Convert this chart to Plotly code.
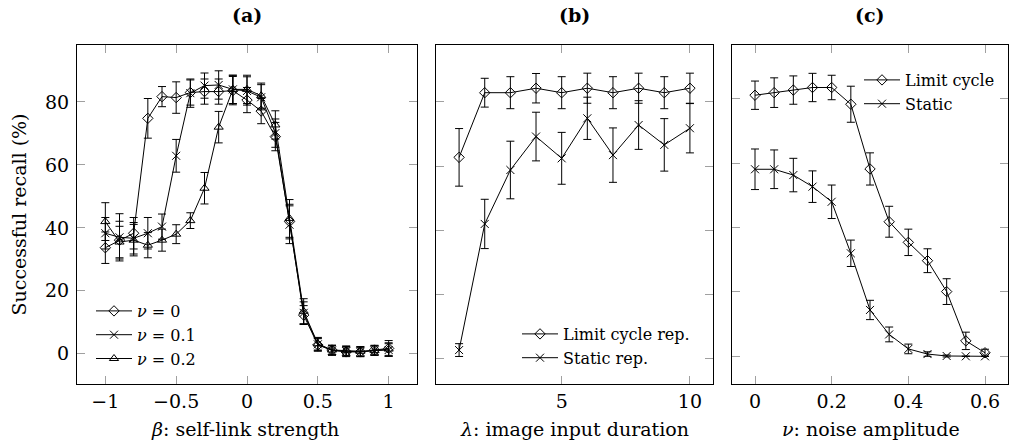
import plotly.graph_objects as go

W, H = 1009, 446
FONT = "DejaVu Serif"

# ---------- Panel (a) data ----------
beta = [-1.0, -0.9, -0.8, -0.7, -0.6, -0.5, -0.4, -0.3, -0.2, -0.1, 0.0,
        0.1, 0.2, 0.3, 0.4, 0.5, 0.6, 0.7, 0.8, 0.9, 1.0]
nu0 = [33.7, 36.1, 38.3, 74.8, 81.7, 81.4, 83.0, 83.3, 83.3, 83.6, 80.6,
       77.1, 69.0, 42.0, 12.3, 2.8, 1.2, 0.6, 0.6, 1.2, 1.7]
nu0_err = [5.0, 6.0, 5.0, 6.3, 3.2, 5.0, 4.0, 4.0, 4.0, 4.5, 4.0,
           4.0, 4.5, 5.5, 3.0, 2.0, 1.5, 1.5, 1.5, 1.5, 2.5]
nu1 = [38.3, 37.0, 36.7, 38.3, 40.4, 62.9, 82.8, 85.2, 85.4, 84.0, 83.5,
       81.5, 70.1, 41.0, 13.0, 3.0, 1.0, 0.8, 0.6, 1.0, 1.2]
nu1_err = [5.0, 7.5, 5.0, 5.0, 4.0, 5.2, 4.5, 4.0, 4.5, 4.5, 4.5,
           4.0, 4.5, 6.0, 3.5, 2.0, 1.5, 1.5, 1.5, 1.5, 2.0]
nu2 = [42.0, 35.5, 36.1, 34.5, 36.1, 38.0, 42.3, 52.6, 72.0, 84.0, 84.0,
       82.0, 72.7, 43.0, 13.5, 3.2, 1.2, 1.0, 0.8, 1.0, 1.5]
nu2_err = [6.0, 5.0, 5.0, 4.0, 3.5, 3.0, 2.5, 5.0, 5.0, 4.5, 4.5,
           4.0, 4.5, 6.0, 4.0, 2.0, 1.5, 1.5, 1.5, 1.5, 2.0]

# ---------- Panel (b) data ----------
lam = [1, 2, 3, 4, 5, 6, 7, 8, 9, 10]
b_lc = [62.7, 82.9, 82.9, 84.3, 82.9, 84.3, 82.9, 84.3, 82.9, 84.3]
b_lc_err = [9.0, 4.5, 5.0, 4.6, 5.0, 4.7, 5.0, 4.7, 5.0, 4.7]
b_st = [2.5, 41.9, 58.75, 69.2, 62.4, 74.9, 63.4, 72.8, 66.6, 71.8]
b_st_err = [2.0, 7.7, 9.0, 7.6, 8.1, 6.6, 8.5, 7.6, 8.2, 7.7]

# ---------- Panel (c) data ----------
noise = [0.0, 0.05, 0.1, 0.15, 0.2, 0.25, 0.3, 0.35, 0.4, 0.45, 0.5, 0.55, 0.6]
c_lc = [81.1, 81.9, 82.7, 83.5, 83.5, 78.3, 58.2, 41.8, 35.4, 29.7, 20.1, 4.8, 1.1]
c_lc_err = [4.4, 4.6, 4.4, 4.4, 3.8, 5.6, 5.0, 4.8, 4.1, 3.7, 4.0, 2.7, 1.1]
c_st = [58.1, 58.1, 56.3, 52.7, 48.0, 32.0, 14.4, 6.8, 2.3, 0.7, 0.1, 0.0, 0.0]
c_st_err = [6.3, 6.0, 5.2, 4.9, 5.2, 4.1, 3.0, 2.3, 1.5, 0.7, 0.3, 0.0, 0.0]

# tick labels
a_xticks = [-1, -0.5, 0, 0.5, 1]
b_xticks = [5, 10]
c_xticks = [0, 0.2, 0.4, 0.6]
yticks = [0, 20, 40, 60, 80]


def px_x(p):
    return p / W


def px_y(p):
    return 1 - p / H


def trace(x, y, err, symbol, name, xa, ya, leg):
    return go.Scatter(
        x=x, y=y, mode="lines+markers", name=name,
        xaxis=xa, yaxis=ya, legend=leg,
        line=dict(color="black", width=1),
        marker=dict(symbol=symbol, size=8, color="black",
                    line=dict(color="black", width=1)),
        error_y=dict(type="data", array=err, color="black",
                     thickness=1, width=4),
    )


fig = go.Figure()
fig.add_trace(trace(beta, nu0, nu0_err, "diamond-open", "<i>ν</i> = 0", "x", "y", "legend"))
fig.add_trace(trace(beta, nu1, nu1_err, "x-thin-open", "<i>ν</i> = 0.1", "x", "y", "legend"))
fig.add_trace(trace(beta, nu2, nu2_err, "triangle-up-open", "<i>ν</i> = 0.2", "x", "y", "legend"))
fig.add_trace(trace(lam, b_lc, b_lc_err, "diamond-open", "Limit cycle rep.", "x2", "y2", "legend2"))
fig.add_trace(trace(lam, b_st, b_st_err, "x-thin-open", "Static rep.", "x2", "y2", "legend2"))
fig.add_trace(trace(noise, c_lc, c_lc_err, "diamond-open", "Limit cycle", "x3", "y3", "legend3"))
fig.add_trace(trace(noise, c_st, c_st_err, "x-thin-open", "Static", "x3", "y3", "legend3"))

axis_common = dict(
    showline=True, linecolor="black", linewidth=1, mirror="ticks",
    ticks="inside", ticklen=8, tickcolor="#a0a0a0", tickwidth=1,
    showgrid=False, zeroline=False,
    tickfont=dict(family=FONT, size=19, color="black"),
)

leg_common = dict(xanchor="left", yanchor="top", itemwidth=36,
                  bgcolor="rgba(0,0,0,0)", font=dict(family=FONT, size=16))

ydom = [px_y(384), px_y(45)]
fig.update_layout(
    width=W, height=H,
    margin=dict(l=0, r=0, t=0, b=0),
    paper_bgcolor="white", plot_bgcolor="white",
    font=dict(family=FONT, color="black"),
    xaxis=dict(domain=[px_x(77), px_x(417)], range=[-1.2, 1.2],
               tickvals=a_xticks, anchor="y", **axis_common),
    yaxis=dict(domain=ydom, range=[-9.6, 98.1], tickvals=yticks,
               anchor="x", ticklabelstandoff=3, **axis_common),
    xaxis2=dict(domain=[px_x(436), px_x(713)], range=[0.1, 10.9],
                tickvals=b_xticks, anchor="y2", **axis_common),
    yaxis2=dict(domain=ydom, range=[-8.1, 97.8], tickvals=yticks,
                showticklabels=False, anchor="x2", **axis_common),
    xaxis3=dict(domain=[px_x(732), px_x(1008)], range=[-0.06, 0.66],
                tickvals=c_xticks, anchor="y3", **axis_common),
    yaxis3=dict(domain=ydom, range=[-8.6, 96.7], tickvals=yticks,
                showticklabels=False, anchor="x3", **axis_common),
    legend=dict(x=px_x(91), y=px_y(294), **leg_common),
    legend2=dict(x=px_x(517), y=px_y(317), **leg_common),
    legend3=dict(x=px_x(859), y=px_y(63), **leg_common),
    showlegend=True,
)

ann_font = dict(family=FONT, size=19, color="black")
for cx, t in [(247, "<b>(a)</b>"), (574.5, "<b>(b)</b>"), (870, "<b>(c)</b>")]:
    fig.add_annotation(x=px_x(cx), y=px_y(15), xref="paper", yref="paper",
                       text=t, showarrow=False, xanchor="center",
                       yanchor="middle", font=ann_font)
for cx, t in [(245, "<i>β</i>: self-link strength"),
              (574.5, "<i>λ</i>: image input duration"),
              (870.5, "<i>ν</i>: noise amplitude")]:
    fig.add_annotation(x=px_x(cx), y=px_y(429), xref="paper", yref="paper",
                       text=t, showarrow=False, xanchor="center",
                       yanchor="middle", font=ann_font)
fig.add_annotation(x=px_x(18), y=px_y(214.5), xref="paper", yref="paper",
                   text="Successful recall (%)", showarrow=False,
                   textangle=-90, xanchor="center", yanchor="middle",
                   font=ann_font)

fig.write_html("out.html")
